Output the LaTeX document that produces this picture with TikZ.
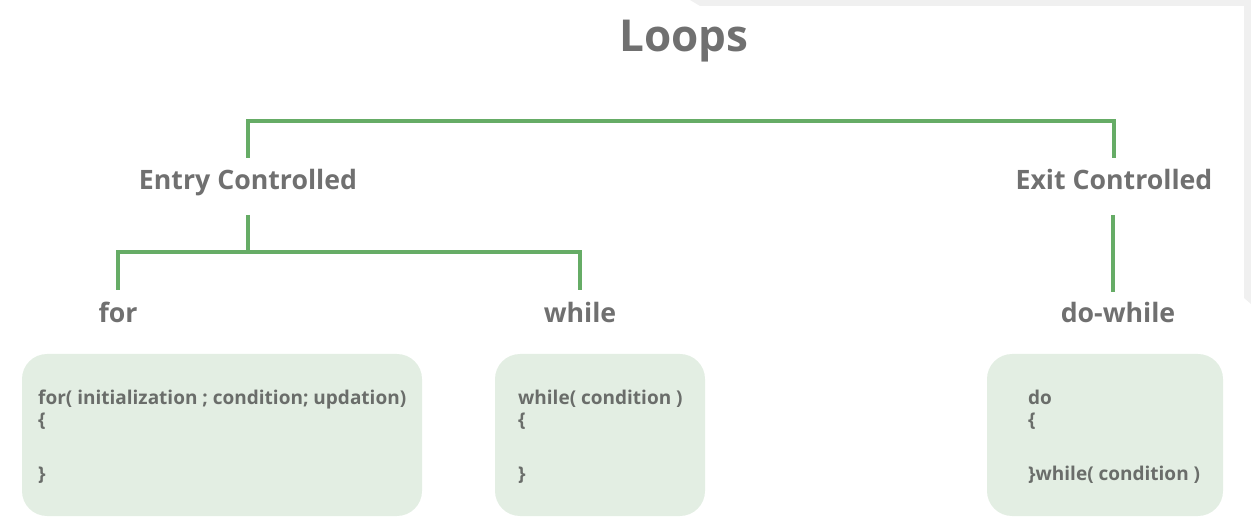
\documentclass[tikz,border=0pt]{standalone}
\usepackage{fontspec}
\setmainfont{Open Sans}
\definecolor{labelgray}{HTML}{707070}
\definecolor{codegray}{HTML}{6A6D6A}
\definecolor{treegreen}{RGB}{102,172,102}
\definecolor{boxgreen}{HTML}{E3EEE3}
\definecolor{edgegray}{HTML}{F0F0F0}
\tikzset{
  title/.style={text=labelgray, font=\fontsize{44}{48}\selectfont\bfseries, inner sep=0pt, anchor=base},
  level/.style={text=labelgray, font=\fontsize{26.7}{30}\selectfont\bfseries, inner sep=0pt, anchor=base},
  branch/.style={draw=treegreen, line width=3.2pt},
  codebox/.style={fill=boxgreen, rounded corners=25pt, inner sep=0pt},
  codeline/.style={text=codegray, font=\fontsize{19}{22}\selectfont\bfseries, inner sep=0pt, anchor=base west}
}
\begin{document}
\begin{tikzpicture}[x=1pt,y=-1pt]
\useasboundingbox (0,0) rectangle (1251,518);
% page edge in the top right corner
\fill[edgegray] (690,0) -- (1251,0) -- (1251,304) -- (1244,298) -- (1244,6) -- (700,6) -- cycle;

% headings
\node[title] (loops) at (684,52) {Loops};
\node[level] (entry) at (248,190) {Entry Controlled};
\node[level] (exit) at (1114,190) {Exit Controlled};
\node[level] (for) at (118,323) {for};
\node[level] (while) at (580,323) {while};
\node[level] (dowhile) at (1118,323) {do-while};

% connector ends
\coordinate (entryup) at (248,158);
\coordinate (exitup) at (1114,158);
\coordinate (entrydown) at (248,215);
\coordinate (exitdown) at (1113,215);
\coordinate (forup) at (118,290);
\coordinate (whileup) at (580,290);
\coordinate (dowhileup) at (1113,292);

% tree connectors
\draw[branch] (entryup) -- ++(0,-37) -| (exitup);
\draw[branch] (entrydown) -- ++(0,37);
\draw[branch] (forup) -- ++(0,-38) -| (whileup);
\draw[branch] (exitdown) -- (dowhileup);

% code boxes
\node[codebox, minimum width=400pt, minimum height=162pt] (forbox) at (222,435) {};
\node[codebox, minimum width=210pt, minimum height=162pt] (whilebox) at (600,435) {};
\node[codebox, minimum width=236pt, minimum height=162pt] (dobox) at (1105,435) {};

% code text
\node[codeline] (for1) at (38,405) {for( initialization ; condition; updation)};
\node[codeline] (for2) at (38,427) {\{};
\node[codeline] (for3) at (38,481) {\}};
\node[codeline] (while1) at (518,405) {while( condition )};
\node[codeline] (while2) at (518,427) {\{};
\node[codeline] (while3) at (518,481) {\}};
\node[codeline] (do1) at (1028,405) {do};
\node[codeline] (do2) at (1028,427) {\{};
\node[codeline] (do3) at (1028,481) {\}while( condition )};
\end{tikzpicture}
\end{document}
